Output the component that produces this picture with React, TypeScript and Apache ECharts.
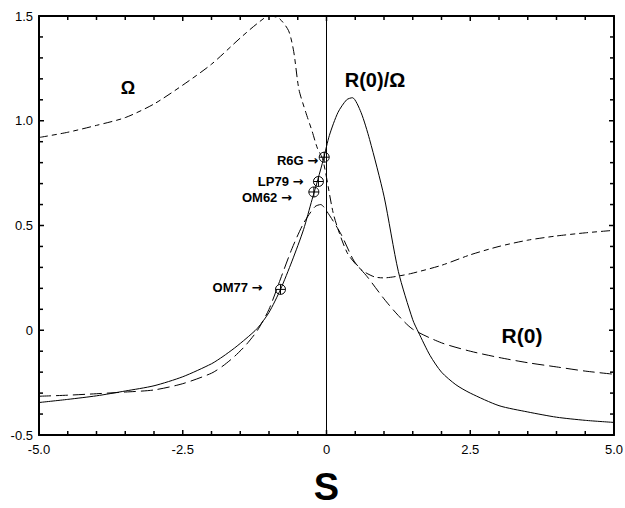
import React, { useEffect, useRef } from "react";
import * as echarts from "echarts";

// ---- Data ----
const xTicks = [-5, -2.5, 0, 2.5, 5];
const yTicks = [-0.5, 0, 0.5, 1.0, 1.5];
const xMinorStep = 0.5;
const yMinorStep = 0.1;

// Omega (dash-dot curve)
const omegaS = [-5.0, -4.5, -4.0, -3.5, -3.0, -2.5, -2.0, -1.5, -1.2, -1.0, -0.83, -0.66, -0.57, -0.48, -0.36, -0.25, -0.16, -0.07, 0.0, 0.13, 0.36, 0.6, 0.83, 1.0, 1.17, 1.46, 2.0, 2.5, 3.0, 3.5, 4.0, 4.5, 5.0];
const omegaV = [0.92, 0.945, 0.978, 1.015, 1.08, 1.17, 1.27, 1.395, 1.465, 1.50, 1.49, 1.43, 1.33, 1.15, 1.04, 0.95, 0.87, 0.82, 0.73, 0.545, 0.37, 0.29, 0.255, 0.25, 0.255, 0.27, 0.31, 0.36, 0.40, 0.43, 0.45, 0.465, 0.477];

// R(0) (long-dashed curve)
const r0S = [-5.0, -4.5, -4.0, -3.5, -3.0, -2.5, -2.0, -1.8, -1.6, -1.4, -1.2, -1.0, -0.8, -0.6, -0.4, -0.2, -0.1, 0.0, 0.25, 0.48, 0.71, 1.0, 1.25, 1.5, 2.0, 2.5, 3.0, 3.5, 4.0, 4.5, 5.0];
const r0V = [-0.315, -0.31, -0.303, -0.295, -0.285, -0.255, -0.205, -0.17, -0.125, -0.07, 0.0, 0.10, 0.245, 0.39, 0.51, 0.59, 0.60, 0.57, 0.46, 0.33, 0.255, 0.15, 0.07, 0.005, -0.06, -0.10, -0.13, -0.155, -0.175, -0.195, -0.21];

// R(0)/Omega (solid curve)
const ratioS = [-5.0, -4.5, -4.0, -3.5, -3.0, -2.5, -2.0, -1.8, -1.6, -1.4, -1.2, -1.0, -0.8, -0.6, -0.4, -0.25, -0.15, -0.05, 0.05, 0.2, 0.35, 0.45, 0.6, 0.75, 1.0, 1.25, 1.5, 1.6, 1.8, 2.0, 2.25, 2.5, 3.0, 3.5, 4.0, 4.5, 5.0];
const ratioV = [-0.345, -0.33, -0.313, -0.29, -0.265, -0.222, -0.16, -0.125, -0.085, -0.04, 0.01, 0.085, 0.195, 0.33, 0.48, 0.625, 0.72, 0.82, 0.93, 1.04, 1.10, 1.11, 1.04, 0.91, 0.64, 0.28, 0.05, -0.01, -0.12, -0.20, -0.26, -0.30, -0.36, -0.39, -0.415, -0.43, -0.44];

// Marked points
const pointNames = ["R6G", "LP79", "OM62", "OM77"];
const pointS = [-0.04, -0.14, -0.22, -0.80];
const pointV = [0.826, 0.71, 0.66, 0.195];

// Label offsets (style): [dx of text right edge, dy of text center]
const labelOffsets = [
  [-6, 3],
  [-15, 0],
  [-22, 6],
  [-18, -2],
];

const FONT = "'Liberation Sans', Arial, Helvetica, sans-serif";

const zip = (a: number[], b: number[]) => a.map((v, i) => [v, b[i]]);

const fmt = (v: number) => (v === 0 ? "0" : v.toFixed(1));

// tick values along each axis: [value, major?]
function tickList(major: number[], step: number) {
  const lo = major[0], hi = major[major.length - 1];
  const n = Math.round((hi - lo) / step);
  const out: number[][] = [];
  for (let i = 0; i <= n; i++) {
    const v = +(lo + i * step).toFixed(4);
    out.push([v, major.some((t) => Math.abs(t - v) < 1e-6) ? 1 : 0]);
  }
  return out;
}

export default function App() {
  const ref = useRef<HTMLDivElement>(null);

  useEffect(() => {
    if (!ref.current) return;
    const chart = echarts.init(ref.current, undefined, { renderer: "svg" });

    const xMin = xTicks[0], xMax = xTicks[xTicks.length - 1];
    const yMin = yTicks[0], yMax = yTicks[yTicks.length - 1];

    const axisCommon = {
      type: "value" as const,
      axisLine: { show: true, onZero: false, lineStyle: { color: "#000", width: 2 } },
      axisTick: { show: false },
      minorTick: { show: false },
      splitLine: { show: false },
      minorSplitLine: { show: false },
    };

    const option: any = {
      animation: false,
      backgroundColor: "#fff",
      grid: { left: 39, right: 11, top: 16, bottom: 73, outerBoundsMode: "none", containLabel: false },
      xAxis: [
        {
          ...axisCommon,
          position: "bottom",
          min: xMin,
          max: xMax,
          interval: 2.5,
          axisLabel: {
            show: true,
            color: "#000",
            fontSize: 13,
            fontFamily: FONT,
            margin: 8,
            formatter: fmt,
          },
          name: "S",
          nameLocation: "middle",
          nameGap: 33,
          nameTextStyle: { color: "#000", fontSize: 38, fontWeight: "bold", fontFamily: FONT },
        },
        {
          ...axisCommon,
          position: "top",
          min: xMin,
          max: xMax,
          interval: 2.5,
          axisLabel: { show: false },
        },
      ],
      yAxis: [
        {
          ...axisCommon,
          position: "left",
          min: yMin,
          max: yMax,
          interval: 0.5,
          axisLabel: {
            show: true,
            color: "#000",
            fontSize: 13,
            fontFamily: FONT,
            margin: 6,
            formatter: fmt,
          },
        },
        {
          ...axisCommon,
          position: "right",
          min: yMin,
          max: yMax,
          interval: 0.5,
          axisLabel: { show: false },
        },
      ],
      series: [
        {
          name: "R(0)/Ω",
          type: "line",
          data: zip(ratioS, ratioV),
          smooth: 0.25,
          showSymbol: false,
          lineStyle: { color: "#000", width: 1 },
          markLine: {
            silent: true,
            symbol: "none",
            label: { show: false },
            lineStyle: { color: "#000", width: 1, type: "solid" },
            data: [{ xAxis: 0 }],
          },
        },
        {
          name: "R(0)",
          type: "line",
          data: zip(r0S, r0V),
          smooth: 0.25,
          showSymbol: false,
          lineStyle: { color: "#000", width: 1, type: [12, 5] },
        },
        {
          name: "Ω",
          type: "line",
          data: zip(omegaS, omegaV),
          smooth: 0.25,
          showSymbol: false,
          lineStyle: { color: "#000", width: 1, type: [9, 4, 5, 4] },
        },
        {
          name: "points",
          type: "custom",
          data: pointS.map((s, i) => [s, pointV[i], i]),
          renderItem: (params: any, api: any) => {
            const p = api.coord([api.value(0), api.value(1)]);
            const idx = api.value(2);
            const r = 5;
            const off = labelOffsets[idx];
            return {
              type: "group",
              children: [
                { type: "circle", shape: { cx: p[0], cy: p[1], r }, style: { fill: "none", stroke: "#000", lineWidth: 1 } },
                { type: "line", shape: { x1: p[0] - r, y1: p[1], x2: p[0] + r, y2: p[1] }, style: { stroke: "#000", lineWidth: 1 } },
                { type: "line", shape: { x1: p[0], y1: p[1] - r, x2: p[0], y2: p[1] + r }, style: { stroke: "#000", lineWidth: 1 } },
                {
                  type: "text",
                  x: p[0] + off[0],
                  y: p[1] + off[1],
                  style: {
                    text: "{n|" + pointNames[idx] + "} {a|→}",
                    fill: "#000",
                    font: `bold 13px ${FONT}`,
                    align: "right",
                    verticalAlign: "middle",
                    rich: {
                      n: { fontFamily: FONT, fontWeight: "bold", fontSize: 13, fill: "#000" },
                      a: { fontFamily: "'DejaVu Sans', sans-serif", fontWeight: "bold", fontSize: 13, fill: "#000" },
                    },
                  },
                },
              ],
            };
          },
        },
      ],
      graphic: [
        {
          type: "text",
          x: 128,
          y: 88,
          style: { text: "Ω", fill: "#000", font: `bold 18px ${FONT}`, align: "center", verticalAlign: "middle" },
        },
        {
          type: "text",
          x: 375,
          y: 80,
          style: { text: "R(0)/Ω", fill: "#000", font: `bold 20px ${FONT}`, align: "center", verticalAlign: "middle" },
        },
        {
          type: "text",
          x: 522,
          y: 335,
          style: { text: "R(0)", fill: "#000", font: `bold 21px ${FONT}`, align: "center", verticalAlign: "middle" },
        },
      ],
    };

    chart.setOption(option);

    // Frame ticks (inward on all four sides), positioned through the chart's own scales
    const toPx = (x: number, y: number) => chart.convertToPixel({ gridIndex: 0 } as any, [x, y]) as number[];
    const tickEls: any[] = [];
    const mk = (x1: number, y1: number, x2: number, y2: number) =>
      tickEls.push({
        type: "line",
        silent: true,
        z: 100,
        shape: { x1, y1, x2, y2 },
        style: { stroke: "#000", lineWidth: 1.5 },
      });
    tickList(xTicks, xMinorStep).forEach(([v, major]) => {
      const len = major ? 5 : 4;
      const b = toPx(v, yMin);
      const t = toPx(v, yMax);
      mk(b[0], b[1], b[0], b[1] - len);
      mk(t[0], t[1], t[0], t[1] + len);
    });
    tickList(yTicks, yMinorStep).forEach(([v, major]) => {
      const len = major ? 5 : 4;
      const l = toPx(xMin, v);
      const r = toPx(xMax, v);
      mk(l[0], l[1], l[0] + len, l[1]);
      mk(r[0], r[1], r[0] - len, r[1]);
    });
    chart.setOption({ graphic: [...option.graphic, ...tickEls] });

    return () => chart.dispose();
  }, []);

  return <div ref={ref} style={{ width: 625, height: 508, position: "absolute", left: 0, top: 0 }} />;
}
